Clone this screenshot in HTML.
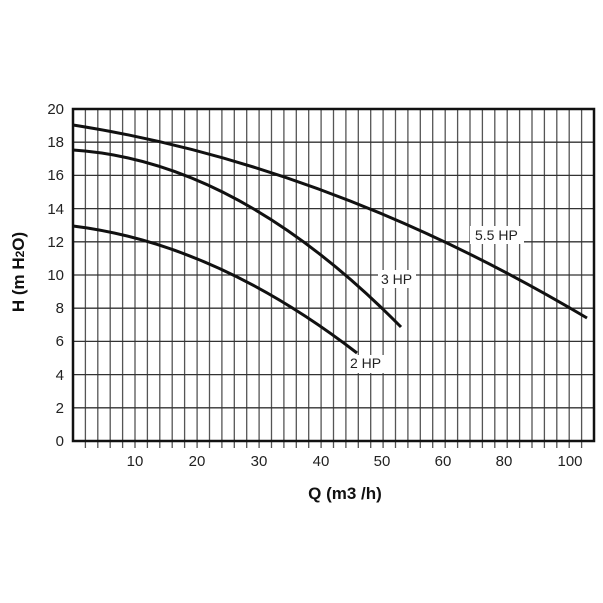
<!DOCTYPE html>
<html><head><style>body{margin:0;background:#fff}svg{display:block}</style></head><body>
<svg width="603" height="603" xmlns="http://www.w3.org/2000/svg" font-family="Liberation Sans, sans-serif">
<path stroke="#555" stroke-width="1.3" fill="none" d="M85.4,109V448M97.8,109V448M110.2,109V448M122.6,109V448M135,109V448M147.4,109V448M159.8,109V448M172.2,109V448M184.6,109V448M197.1,109V448M209.5,109V448M221.9,109V448M234.3,109V448M246.7,109V448M259.1,109V448M271.5,109V448M283.9,109V448M296.3,109V448M308.7,109V448M321.1,109V448M333.5,109V448M345.9,109V448M358.3,109V448M370.7,109V448M383.1,109V448M395.5,109V448M407.9,109V448M420.3,109V448M432.7,109V448M445.2,109V448M457.6,109V448M470,109V448M482.4,109V448M494.8,109V448M507.2,109V448M519.6,109V448M532,109V448M544.4,109V448M556.8,109V448M569.2,109V448M581.6,109V448"/>
<g stroke="#333" stroke-width="1.3">
<line x1="73" x2="594" y1="142.2" y2="142.2"/><line x1="73" x2="594" y1="175.4" y2="175.4"/>
<line x1="73" x2="594" y1="208.6" y2="208.6"/><line x1="73" x2="594" y1="241.8" y2="241.8"/>
<line x1="73" x2="594" y1="275" y2="275"/><line x1="73" x2="594" y1="308.2" y2="308.2"/>
<line x1="73" x2="594" y1="341.4" y2="341.4"/><line x1="73" x2="594" y1="374.6" y2="374.6"/>
<line x1="73" x2="594" y1="407.8" y2="407.8"/>
</g>
<rect x="73" y="109" width="521" height="332" fill="none" stroke="#111" stroke-width="2.5"/>
<g fill="none" stroke="#111" stroke-width="3">
<path d="M73,125 Q330,165 587,318"/>
<path d="M73,150 Q237,160.5 401,327"/>
<path d="M73,226 Q215,243.5 357,353"/>
</g>
<g font-size="14" fill="#222">
<rect x="470" y="226" width="54" height="18" fill="#fff"/><text x="475" y="240">5.5 HP</text>
<rect x="378" y="270" width="38" height="18" fill="#fff"/><text x="381" y="284">3 HP</text>
<rect x="347" y="355" width="38" height="18" fill="#fff"/><text x="350" y="368">2 HP</text>
</g>
<g font-size="15" fill="#222" text-anchor="end">
<text x="64" y="114">20</text><text x="64" y="147">18</text><text x="64" y="180">16</text>
<text x="64" y="214">14</text><text x="64" y="247">12</text><text x="64" y="280">10</text>
<text x="64" y="313">8</text><text x="64" y="346">6</text><text x="64" y="380">4</text>
<text x="64" y="413">2</text><text x="64" y="446">0</text>
</g>
<g font-size="15" fill="#222" text-anchor="middle">
<text x="135" y="466">10</text><text x="197" y="466">20</text><text x="259" y="466">30</text>
<text x="321" y="466">40</text><text x="382" y="466">50</text><text x="443" y="466">60</text>
<text x="504" y="466">80</text><text x="570" y="466">100</text>
</g>
<text x="345" y="499" font-size="17" font-weight="bold" text-anchor="middle" fill="#111">Q (m3 /h)</text>
<text transform="translate(24,272) rotate(-90)" font-size="17" font-weight="bold" text-anchor="middle" fill="#111">H (m H<tspan font-size="12">2</tspan>O)</text>
</svg>
</body></html>
